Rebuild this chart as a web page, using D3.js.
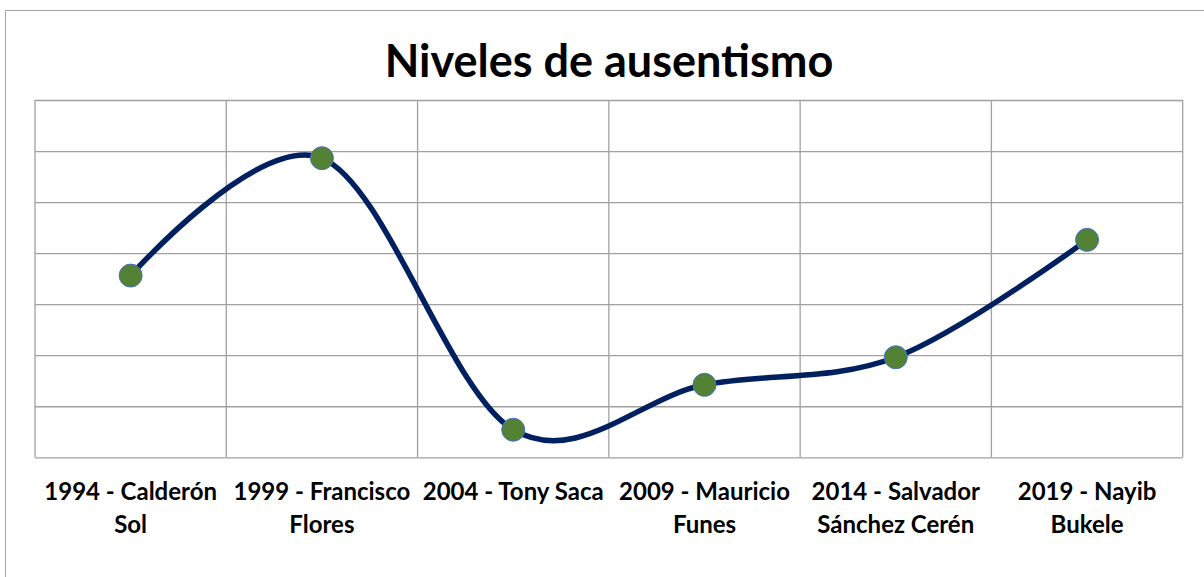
<!DOCTYPE html>
<html><head><meta charset="utf-8">
<script src="https://cdn.jsdelivr.net/npm/d3@7"></script>
<style>body{margin:0;background:#fff;}svg{display:block;}</style>
</head><body>
<svg id="c" width="1204" height="577"></svg>
<script>
const categories = ["1994 - Calderón Sol","1999 - Francisco Flores","2004 - Tony Saca","2009 - Mauricio Funes","2014 - Salvador Sánchez Cerén","2019 - Nayib Bukele"];
const values = [47.8, 59.3, 32.7, 37.1, 39.8, 51.3];
const yTicks = [30,35,40,45,50,55,60,65];
const title = "Niveles de ausentismo";

const svg = d3.select("#c");
const m = {l:35, r:1204-1182.7, t:100, b:577-457.3};
const W = 1204, H = 577;
const iw = W-m.l-m.r, ih = H-m.t-m.b;
const font = "Lato, 'Open Sans', sans-serif";

svg.append("rect").attr("x",5.5).attr("y",10.5).attr("width",1220).attr("height",620)
  .attr("fill","#fff").attr("stroke","#a6a6a6").attr("stroke-width",1);

svg.append("text").attr("x",609).attr("y",77).attr("text-anchor","middle")
  .attr("font-family",font).attr("font-weight","bold").attr("font-size",45)
  .attr("fill","#000").text(title);

const g = svg.append("g").attr("transform",`translate(${m.l},${m.t})`);
const x = d3.scaleBand().domain(categories).range([0,iw]);
const y = d3.scaleLinear().domain([30,65]).range([ih,0]);

g.append("g").call(d3.axisLeft(y).tickValues(yTicks).tickSize(-iw).tickFormat(""))
  .call(s=>s.select(".domain").remove())
  .call(s=>s.selectAll("line").attr("stroke","#a0a0a0").attr("stroke-width",1.3));
g.append("g").selectAll("line").data(categories.concat([null])).join("line")
  .attr("x1",(d,i)=>i*x.step()).attr("x2",(d,i)=>i*x.step())
  .attr("y1",0).attr("y2",ih).attr("stroke","#a0a0a0").attr("stroke-width",1.3);

const xa = g.append("g").attr("transform",`translate(0,${ih})`)
  .call(d3.axisBottom(x).tickSize(0).tickPadding(0));
xa.select(".domain").remove();
xa.selectAll("text").each(function(d){
  const t = d3.select(this);
  t.text(null).attr("font-family",font).attr("font-weight","bold").attr("font-size",24).attr("fill","#000").attr("y",0).attr("dy",null);
  const words = d.split(" ");
  let lines=[], cur=[];
  const ts = t.append("tspan").attr("x",0);
  for(const w of words){
    cur.push(w); ts.text(cur.join(" "));
    if(ts.node().getComputedTextLength()>188 && cur.length>1){ cur.pop(); lines.push(cur.join(" ")); cur=[w]; }
  }
  lines.push(cur.join(" "));
  ts.remove();
  lines.forEach((l,i)=>t.append("tspan").attr("x",0).attr("y",43+i*33).text(l));
});

const cx = d=>x(d)+x.bandwidth()/2;
const data = categories.map((c,i)=>({c, v:values[i]}));
g.append("path").datum(data)
  .attr("d", d3.line().x(d=>cx(d.c)).y(d=>y(d.v)).curve(d3.curveCardinal.tension(0)))
  .attr("fill","none").attr("stroke","#002060").attr("stroke-width",5.5).attr("stroke-linecap","round");
g.append("g").selectAll("circle").data(data).join("circle")
  .attr("cx",d=>cx(d.c)).attr("cy",d=>y(d.v)).attr("r",11.5)
  .attr("fill","#548235").attr("stroke","#4472c4").attr("stroke-width",1);
</script>
</body></html>
